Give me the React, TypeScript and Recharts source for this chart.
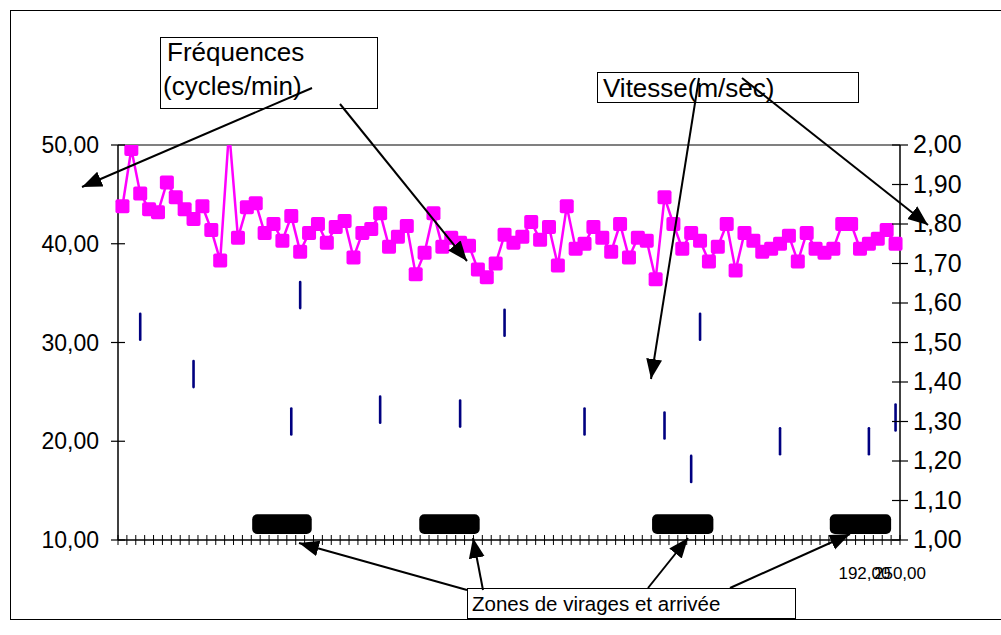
import { ComposedChart, Line, XAxis, YAxis, ReferenceLine, ReferenceArea } from 'recharts';

// fréquence de nage (cycles/min), un point par cycle
const freq = [
  43.8, 49.6, 45.1, 43.5, 43.2, 46.2, 44.7, 43.5, 42.5, 43.8,
  41.4, 38.3, 51.5, 40.6, 43.7, 44.1, 41.1, 42.0, 40.3, 42.8,
  39.2, 41.1, 42.0, 40.1, 41.7, 42.3, 38.6, 41.1, 41.5, 43.1,
  39.7, 40.7, 41.8, 36.9, 39.1, 43.1, 39.7, 40.6, 40.1, 39.8,
  37.4, 36.6, 38.0, 40.9, 40.1, 40.7, 42.2, 40.4, 41.7, 37.8,
  43.8, 39.5, 40.0, 41.7, 40.6, 39.2, 42.0, 38.6, 40.6, 40.3,
  36.4, 44.7, 42.0, 39.5, 41.1, 40.3, 38.2, 39.7, 42.0, 37.3,
  41.1, 40.3, 39.2, 39.5, 40.0, 40.8, 38.2, 41.1, 39.5, 39.1,
  39.5, 42.0, 42.0, 39.5, 40.0, 40.5, 41.4, 40.0,
];

// vitesse (m/sec), seulement sur quelques cycles
const speedIdx = [2, 8, 19, 20, 29, 38, 43, 52, 61, 64, 65, 74, 84, 87];
const speedVal = [1.54, 1.42, 1.30, 1.62, 1.33, 1.32, 1.55, 1.30, 1.29, 1.18, 1.54, 1.25, 1.25, 1.31];

const leftTicks = [10, 20, 30, 40, 50];
const rightTicks = [1.0, 1.1, 1.2, 1.3, 1.4, 1.5, 1.6, 1.7, 1.8, 1.9, 2.0];
const xLabelTicks = [84, 88];
const xLabelTexts = ['192,00', '250,00'];

// zones de virages (en unités de catégorie sur l'axe X)
const zoneFrom = [15.1, 33.9, 60.1, 80.1];
const zoneTo = [21.8, 40.7, 67.0, 87.0];

const data = freq.map((f, i) => {
  const k = speedIdx.indexOf(i);
  return { x: i + 0.5, freq: f, speed: k >= 0 ? speedVal[k] : null };
});
const xTicks = Array.from({ length: 89 }, (_, i) => i);

const FONT = '"Liberation Sans", Arial, sans-serif';
const fmt = (v: number) => v.toFixed(2).replace('.', ',');

const LeftTick = (props: any) => {
  const { x, y, payload } = props;
  return (
    <g>
      <line x1={x - 7} x2={x + 7} y1={y} y2={y} stroke="#000" strokeWidth={1.2} />
      <text x={x - 19} y={y} dy={8} textAnchor="end" fontSize={23} fontFamily={FONT} fill="#000">
        {fmt(payload.value)}
      </text>
    </g>
  );
};

const RightTick = (props: any) => {
  const { x, y, payload } = props;
  return (
    <g>
      <line x1={x - 8} x2={x + 8} y1={y} y2={y} stroke="#000" strokeWidth={1.2} />
      <text x={x + 13} y={y} dy={8} textAnchor="start" fontSize={25} fontFamily={FONT} fill="#000">
        {fmt(payload.value)}
      </text>
    </g>
  );
};

const BottomTick = (props: any) => {
  const { x, y, payload } = props;
  const k = xLabelTicks.indexOf(payload.value);
  return (
    <g>
      <line x1={x} x2={x} y1={y - 5} y2={y + 5} stroke="#000" strokeWidth={1} />
      {k >= 0 && (
        <text x={x} y={y + 39} textAnchor="middle" fontSize={17} fontFamily={FONT} fill="#000">
          {xLabelTexts[k]}
        </text>
      )}
    </g>
  );
};

const FreqDot = (props: any) => {
  const { cx, cy, value, index } = props;
  if (cx == null || cy == null || value > 50) return <g key={`f-${index}`} />;
  return <rect key={`f-${index}`} x={cx - 7} y={cy - 7} width={14} height={14} rx={2} fill="#FF00FF" />;
};

const SpeedDot = (props: any) => {
  const { cx, cy, value, index } = props;
  if (cx == null || cy == null || value == null) return <g key={`s-${index}`} />;
  return (
    <line key={`s-${index}`} x1={cx} x2={cx} y1={cy - 13} y2={cy + 13}
      stroke="#000080" strokeWidth={2.6} strokeLinecap="round" />
  );
};

const ZoneShape = (props: any) => {
  const { x, y, width, height } = props;
  return <rect x={x} y={y} width={width} height={height} rx={5} fill="#000" />;
};

export default function App() {
  return (
    <div style={{ position: 'absolute', left: 0, top: 0, width: 1001, height: 635, background: '#fff' }}>
      <ComposedChart width={1001} height={635} data={data}
        margin={{ top: 145, right: 0, bottom: 55, left: 0 }}>
        <XAxis dataKey="x" type="number" domain={[0, 88]} ticks={xTicks} interval={0}
          tick={<BottomTick />} tickLine={false} tickSize={0} tickMargin={0} height={40}
          axisLine={{ stroke: '#000', strokeWidth: 1.5 }} />
        <YAxis yAxisId="left" domain={[10, 50]} ticks={leftTicks} allowDataOverflow
          tick={<LeftTick />} tickLine={false} tickSize={0} tickMargin={0} width={118}
          axisLine={{ stroke: '#000', strokeWidth: 1.5 }} />
        <YAxis yAxisId="right" orientation="right" domain={[1, 2]} ticks={rightTicks}
          tick={<RightTick />} tickLine={false} tickSize={0} tickMargin={0} width={101}
          axisLine={{ stroke: '#000', strokeWidth: 1.5 }} />
        <ReferenceLine yAxisId="left" y={50} stroke="#808080" strokeWidth={2} />
        {zoneFrom.map((z, i) => (
          <ReferenceArea key={`z-${i}`} yAxisId="left" x1={z} x2={zoneTo[i]} y1={10.6} y2={12.6}
            shape={<ZoneShape />} ifOverflow="visible" />
        ))}
        <Line yAxisId="left" dataKey="freq" stroke="#FF00FF" strokeWidth={2.5}
          dot={<FreqDot />} activeDot={false} isAnimationActive={false} />
        <Line yAxisId="right" dataKey="speed" stroke="none" strokeWidth={0}
          dot={<SpeedDot />} activeDot={false} isAnimationActive={false} />
      </ComposedChart>

      <svg width={1001} height={635} style={{ position: 'absolute', left: 0, top: 0, pointerEvents: 'none' }}>
        <defs>
          <marker id="head" markerUnits="userSpaceOnUse" markerWidth={22} markerHeight={18}
            refX={20} refY={8} orient="auto">
            <path d="M0,0 L20,8 L0,16 Z" fill="#000" />
          </marker>
        </defs>
        <rect x={10.5} y={10.5} width={1000} height={609} fill="none" stroke="#000" strokeWidth={1} />

        <rect x={160.5} y={37.5} width={217} height={71} fill="#fff" stroke="#000" strokeWidth={1} />
        <text x={167} y={61} fontSize={26} fontFamily={FONT} fill="#000">Fréquences</text>
        <text x={163} y={95} fontSize={26} fontFamily={FONT} fill="#000">(cycles/min)</text>

        <rect x={597.5} y={72.5} width={261} height={30} fill="#fff" stroke="#000" strokeWidth={1} />
        <text x={603} y={97} fontSize={26} fontFamily={FONT} fill="#000">Vitesse(m/sec)</text>

        <rect x={467.5} y={588.5} width={328} height={30} fill="#fff" stroke="#000" strokeWidth={1} />
        <text x={472} y={611} fontSize={20.5} fontFamily={FONT} fill="#000">Zones de virages et arrivée</text>

        <g stroke="#000" strokeWidth={2} fill="none" markerEnd="url(#head)">
          <line x1={312} y1={88} x2={82} y2={187} />
          <line x1={340} y1={104} x2={467} y2={261} />
          <line x1={699} y1={78} x2={651} y2={379} />
          <line x1={742} y1={78} x2={928} y2={225} />
          <line x1={467} y1={590} x2={299} y2={543} />
          <line x1={483} y1={590} x2={473} y2={538} />
          <line x1={648} y1={588} x2={688} y2={538} />
          <line x1={730} y1={588} x2={850} y2={534} />
        </g>
      </svg>
    </div>
  );
}
